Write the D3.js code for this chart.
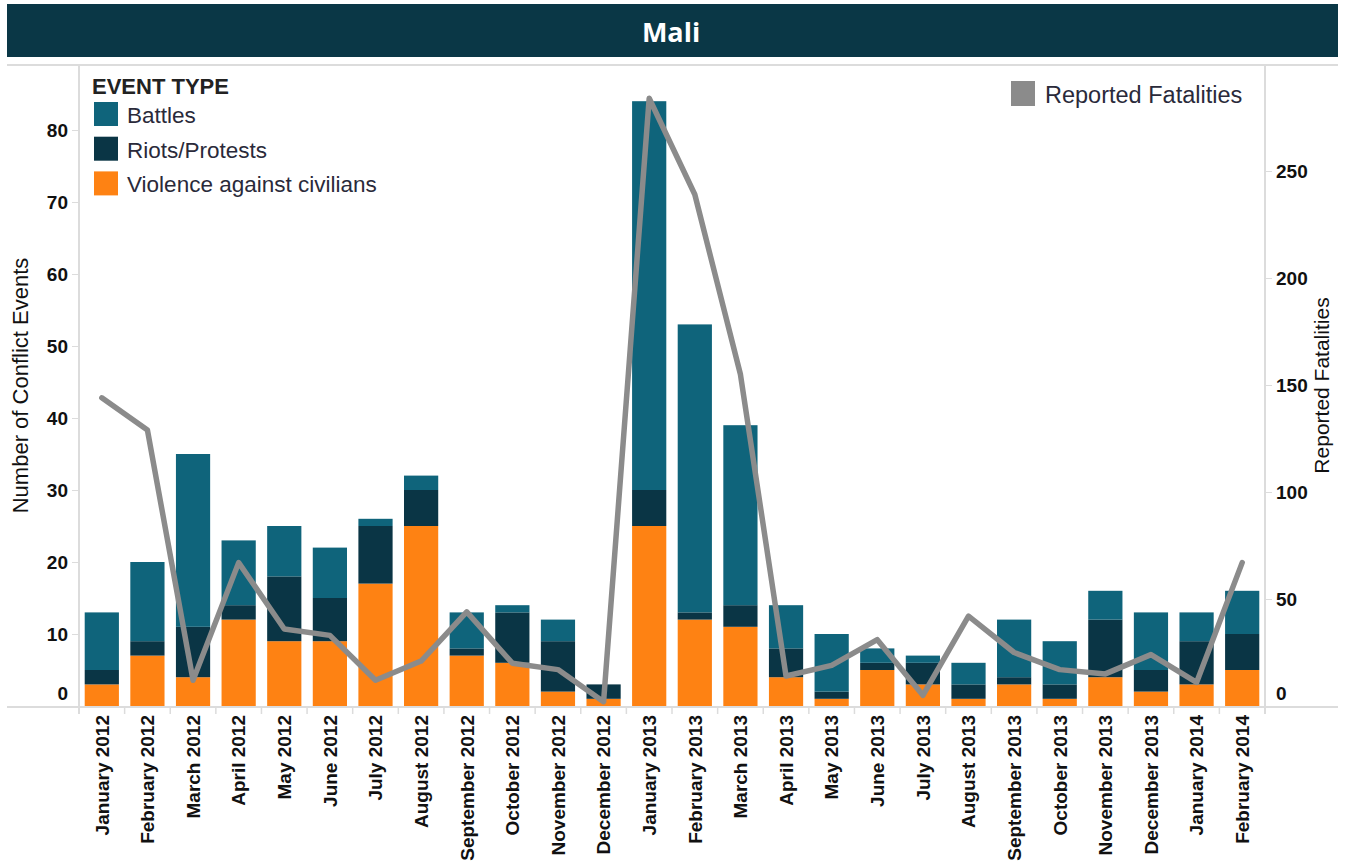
<!DOCTYPE html>
<html>
<head>
<meta charset="utf-8">
<script src="https://cdn.jsdelivr.net/npm/d3@7"></script>
<style>
  body { margin: 0; background: #fff; }
  svg { display: block; font-family: "Liberation Sans", Arial, sans-serif; }
</style>
</head>
<body>
<div id="chart"></div>
<script>
const months = ["January 2012","February 2012","March 2012","April 2012","May 2012","June 2012",
  "July 2012","August 2012","September 2012","October 2012","November 2012","December 2012",
  "January 2013","February 2013","March 2013","April 2013","May 2013","June 2013",
  "July 2013","August 2013","September 2013","October 2013","November 2013","December 2013",
  "January 2014","February 2014"]

const violence = [3,7,4,12,9,9,17,25,7,6,2,1,25,12,11,4,1,5,3,1,3,1,4,2,3,5]
const riots    = [2,2,7,2,9,6,8,5,1,7,7,2,5,1,3,4,1,1,3,2,1,2,8,3,6,5]
const battles  = [8,11,24,9,7,7,1,2,5,1,3,0,54,40,25,6,8,2,1,3,8,6,4,8,4,6]

const fatalities = [144,129,12,67,36,33,12,21,44,20,17,2,284,239,155,14,19,31,5,42,25,17,15,24,11,67]

const leftTicks = [0,10,20,30,40,50,60,70,80]
const rightTicks = [0,50,100,150,200,250]

const types = ["Violence against civilians", "Riots/Protests", "Battles"]
const colours = {
  "Battles": "#0f647b",
  "Riots/Protests": "#0a3545",
  "Violence against civilians": "#fe8213"
}

const width = 1345, height = 863
const x0 = 79, x1 = 1265, yTop = 65, yBase = 706

const rows = months.map((m, i) => ({
  month: m,
  "Violence against civilians": violence[i],
  "Riots/Protests": riots[i],
  "Battles": battles[i]
}))

const x = d3.scaleBand().domain(months).range([x0, x1]).paddingInner(0.25).paddingOuter(0.125)
const y = d3.scaleLinear().domain([0, 80]).range([yBase, 130])
const yR = d3.scaleLinear().domain([0, 250]).range([yBase, 171])

const svg = d3.select("#chart").append("svg")
    .attr("width", width)
    .attr("height", height)

// title bar
svg.append("rect")
    .attr("x", 7).attr("y", 4).attr("width", 1331).attr("height", 53)
    .attr("fill", "#0a3746")
svg.append("text")
    .attr("x", 671).attr("y", 32)
    .attr("dy", "0.36em")
    .attr("text-anchor", "middle")
    .style("font-family", "'Open Sans', sans-serif")
    .style("font-weight", 700)
    .style("font-size", "27px")
    .attr("fill", "#fff")
    .text("Mali")

// frame lines
const grid = svg.append("g").attr("stroke", "#dcdcdc").attr("stroke-width", 2)
grid.append("line").attr("x1", 7).attr("x2", 1338).attr("y1", yTop).attr("y2", yTop)
grid.append("line").attr("x1", 7).attr("x2", 1338).attr("y1", yBase + 1).attr("y2", yBase + 1)
grid.append("line").attr("x1", x0).attr("x2", x0).attr("y1", yTop).attr("y2", yBase + 8)
grid.append("line").attr("x1", x1).attr("x2", x1).attr("y1", yTop).attr("y2", yBase + 8)

// bars
const stack = d3.stack().keys(types)(rows)
svg.append("g")
  .selectAll("g")
  .data(stack)
  .join("g")
    .attr("fill", d => colours[d.key])
  .selectAll("rect")
  .data(d => d)
  .join("rect")
    .attr("x", d => x(d.data.month))
    .attr("width", x.bandwidth())
    .attr("y", d => y(d[1]))
    .attr("height", d => y(d[0]) - y(d[1]))

// left axis
const leftAxis = svg.append("g")
    .attr("transform", `translate(${x0},0)`)
    .call(d3.axisLeft(y).tickValues(leftTicks).tickSize(7).tickPadding(4))
leftAxis.select(".domain").remove()
leftAxis.selectAll(".tick line").attr("stroke", "#dcdcdc")
leftAxis.selectAll(".tick text")
    .style("font-size", "19px").style("font-weight", 700).attr("fill", "#111")
    .attr("dy", d => d === 0 ? "-0.35em" : "0.35em")
leftAxis.selectAll(".tick").filter(d => d === 0).select("line").remove()

// right axis
const rightAxis = svg.append("g")
    .attr("transform", `translate(${x1},0)`)
    .call(d3.axisRight(yR).tickValues(rightTicks).tickSize(7).tickPadding(4))
rightAxis.select(".domain").remove()
rightAxis.selectAll(".tick line").attr("stroke", "#dcdcdc")
rightAxis.selectAll(".tick text")
    .style("font-size", "19px").style("font-weight", 700).attr("fill", "#111")
    .attr("dy", d => d === 0 ? "-0.35em" : "0.35em")
rightAxis.selectAll(".tick").filter(d => d === 0).select("line").remove()

// bottom axis
const bottomAxis = svg.append("g")
    .attr("transform", `translate(0,${yBase})`)
    .call(d3.axisBottom(x).tickSize(0).tickPadding(0))
bottomAxis.select(".domain").remove()
bottomAxis.selectAll(".tick text")
    .attr("transform", "rotate(-90)")
    .attr("text-anchor", "end")
    .attr("x", -9).attr("y", 0)
    .attr("dy", "0.36em")
    .style("font-size", "19px").style("font-weight", 700).attr("fill", "#111")

// tick marks between months
svg.append("g")
  .selectAll("line")
  .data(months.slice(1))
  .join("line")
    .attr("x1", d => x(d) - x.step() * x.paddingInner() / 2)
    .attr("x2", d => x(d) - x.step() * x.paddingInner() / 2)
    .attr("y1", yBase).attr("y2", yBase + 8)
    .attr("stroke", "#dcdcdc").attr("stroke-width", 1.5)

// fatalities line
const line = d3.line()
    .x((d, i) => x(months[i]) + x.bandwidth() / 2)
    .y(d => yR(d))
svg.append("path")
    .datum(fatalities)
    .attr("fill", "none")
    .attr("stroke", "#8b8b8b")
    .attr("stroke-width", 5.5)
    .attr("stroke-linejoin", "round")
    .attr("stroke-linecap", "round")
    .attr("d", line)

// axis titles
svg.append("text")
    .attr("transform", `translate(20,${(yTop + yBase) / 2}) rotate(-90)`)
    .attr("text-anchor", "middle").attr("dy", "0.36em")
    .style("font-size", "22px").attr("fill", "#111")
    .text("Number of Conflict Events")
svg.append("text")
    .attr("transform", `translate(1321,${(yTop + yBase) / 2}) rotate(-90)`)
    .attr("text-anchor", "middle").attr("dy", "0.36em")
    .style("font-size", "21px").attr("fill", "#111")
    .text("Reported Fatalities")

// legend, event type
const legend = svg.append("g")
legend.append("text")
    .attr("x", 92).attr("y", 86).attr("dy", "0.36em")
    .style("font-size", "22px").style("font-weight", 700).attr("fill", "#222")
    .text("EVENT TYPE")
const legendItems = legend.selectAll(".item")
  .data(["Battles", "Riots/Protests", "Violence against civilians"])
  .join("g")
    .attr("class", "item")
    .attr("transform", (d, i) => `translate(94,${102 + i * 34.7})`)
legendItems.append("rect")
    .attr("width", 24).attr("height", 24)
    .attr("fill", d => colours[d])
legendItems.append("text")
    .attr("x", 33).attr("y", 13).attr("dy", "0.36em")
    .style("font-size", "22.5px").attr("fill", "#2a2a3a")
    .text(d => d)

// legend, fatalities
svg.append("rect")
    .attr("x", 1011).attr("y", 81).attr("width", 24).attr("height", 25)
    .attr("fill", "#8b8b8b")
svg.append("text")
    .attr("x", 1045).attr("y", 95).attr("dy", "0.36em")
    .style("font-size", "23.5px").attr("fill", "#2a2a3a")
    .text("Reported Fatalities")
</script>
</body>
</html>
